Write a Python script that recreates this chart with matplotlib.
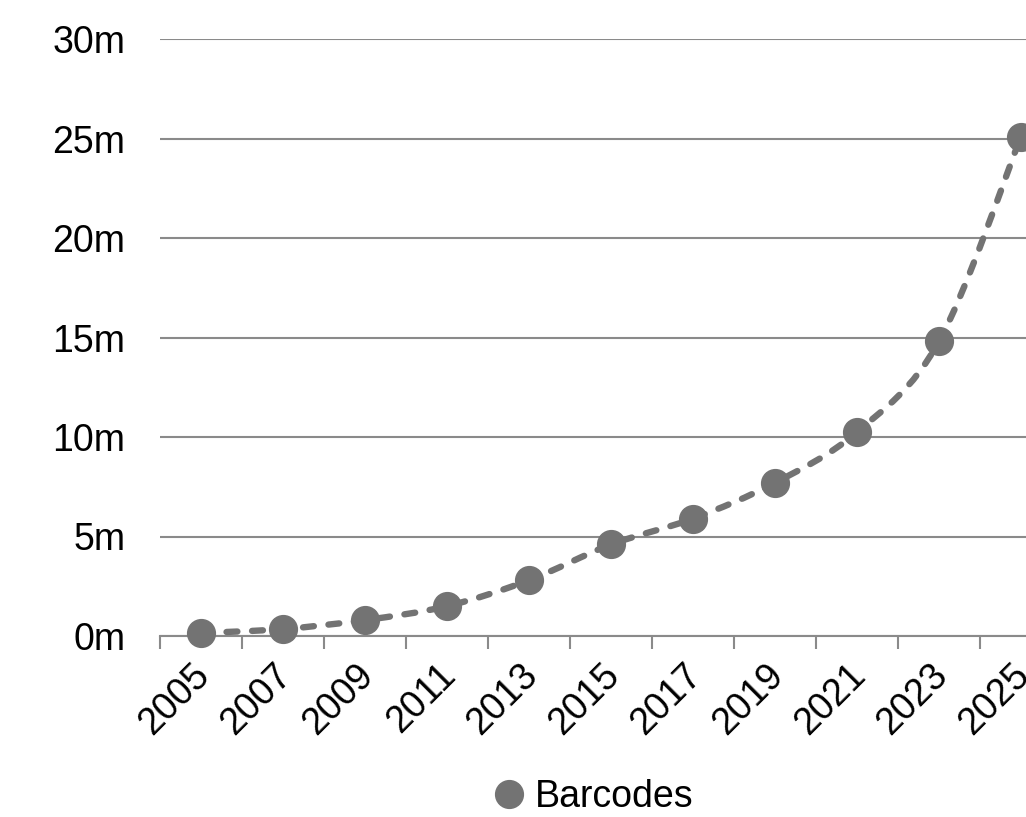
import numpy as np
import matplotlib
matplotlib.use("Agg")
import matplotlib.pyplot as plt
from matplotlib.path import Path
from matplotlib.patches import PathPatch
from matplotlib.lines import Line2D
from matplotlib.transforms import ScaledTranslation

plt.rcParams['font.family'] = ['Liberation Sans', 'DejaVu Sans']

# barcode counts per year, in millions
years = ['2005', '2007', '2009', '2011', '2013', '2015',
         '2017', '2019', '2021', '2023', '2025']
barcodes = [0.15, 0.35, 0.8, 1.5, 2.8, 4.6, 5.9, 7.7, 10.25, 14.8, 25.1]
y_ticks = [0, 5, 10, 15, 20, 25, 30]
y_labels = ['0m', '5m', '10m', '15m', '20m', '25m', '30m']

grey = '#737373'
grid_grey = '#8a8a8a'
fs = 27

fig = plt.figure(figsize=(10.26, 8.17), dpi=100)
# axes runs a bit past the right edge of the figure
ax = fig.add_axes([160 / 1026, 1 - 636 / 817, 902 / 1026, 597 / 817])

x = np.arange(len(years)) + 0.5
y = np.array(barcodes)

# smoothed dashed line through the points (cubic bezier segments)
pts = np.column_stack([x, y])
ext = np.vstack([pts[0], pts, pts[-1]])
verts = [tuple(pts[0])]
codes = [Path.MOVETO]
for i in range(len(pts) - 1):
    p0, p1, p2, p3 = ext[i], ext[i + 1], ext[i + 2], ext[i + 3]
    c1 = p1 + (p2 - p0) / 6
    c2 = p2 - (p3 - p1) / 6
    verts += [tuple(c1), tuple(c2), tuple(p2)]
    codes += [Path.CURVE4] * 3
curve = PathPatch(Path(verts, codes), fill=False, edgecolor=grey,
                  linewidth=4.6, linestyle=(0, (1.7, 2.3)), capstyle='round',
                  zorder=3)
ax.add_patch(curve)
ax.plot(x, y, 'o', color=grey, markersize=20, zorder=4, clip_on=False)

ax.set_xlim(0, len(years))
ax.set_ylim(0, 30)

ax.set_yticks(y_ticks)
ax.set_yticklabels(y_labels, fontsize=fs)
ax.tick_params(axis='y', length=0, pad=25)
ax.yaxis.grid(True, color=grid_grey, linewidth=1.5)
ax.set_axisbelow(True)

# tick marks on category edges, labels on category centres
ax.set_xticks(np.arange(len(years) + 1))
ax.set_xticklabels([])
ax.set_xticks(x, minor=True)
ax.set_xticklabels(years, minor=True, fontsize=fs, rotation=45,
                   ha='right', va='top', rotation_mode='anchor')
ax.tick_params(axis='x', which='major', length=9, width=1.5, color=grid_grey)
ax.tick_params(axis='x', which='minor', length=0, pad=10)

for side in ['top', 'right', 'left']:
    ax.spines[side].set_visible(False)
ax.spines['bottom'].set_color(grid_grey)
ax.spines['bottom'].set_linewidth(1.5)

# nudge the rotated year labels down and to the left
shift = ScaledTranslation(-0.10, -0.07, fig.dpi_scale_trans)
for lbl in ax.get_xticklabels(minor=True):
    lbl.set_transform(lbl.get_transform() + shift)

handle = Line2D([], [], marker='o', linestyle='none', color=grey, markersize=20)
fig.legend([handle], ['Barcodes'], loc='center',
           bbox_to_anchor=(593 / 1026, 1 - 797 / 817), frameon=False,
           fontsize=fs, handletextpad=0.25, handlelength=0.9)

fig.savefig('out.png', dpi=100, facecolor='white')
